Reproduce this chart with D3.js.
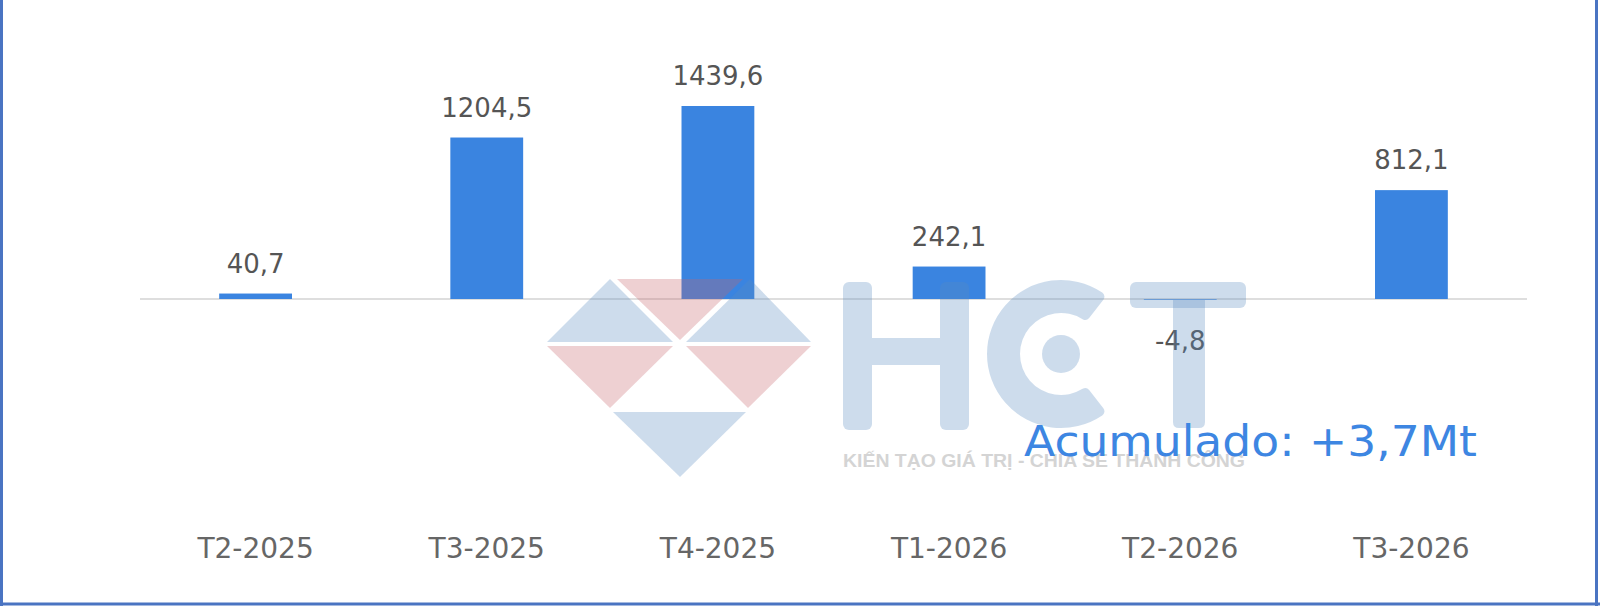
<!DOCTYPE html>
<html>
<head>
<meta charset="utf-8">
<script src="https://cdn.jsdelivr.net/npm/d3@7"></script>
<style>
  html, body { margin: 0; padding: 0; background: #fff; }
  svg { display: block; }
</style>
</head>
<body>
<svg id="chart" width="1600" height="606"></svg>
<script>
// ---- data ----
const categories = ["T2-2025", "T3-2025", "T4-2025", "T1-2026", "T2-2026", "T3-2026"];
const values = [40.7, 1204.5, 1439.6, 242.1, -4.8, 812.1];
const annotation = "Acumulado: +3,7Mt";
const tagline = "KIẾN TẠO GIÁ TRỊ - CHIA SẺ THÀNH CÔNG";

// ---- setup ----
const W = 1600, H = 606;
const svg = d3.select("#chart");
svg.append("rect").attr("width", W).attr("height", H).attr("fill", "#fff");

const fmt = d3.formatLocale({decimal: ",", thousands: "", grouping: [3], currency: ["", ""], minus: "-"}).format(".1f");

const x = d3.scaleBand().domain(categories).range([140, 1527]).paddingInner(0.685).paddingOuter(0.3425);
const y = d3.scaleLinear().domain([0, 1439.6]).range([299, 106]);

const font = "'DejaVu Sans', sans-serif";
const barColor = "#3a84e0";

// baseline
svg.append("line")
  .attr("x1", x.range()[0]).attr("x2", x.range()[1])
  .attr("y1", y(0)).attr("y2", y(0))
  .attr("stroke", "#dedede").attr("stroke-width", 2);

// bars
const data = categories.map((c, i) => ({c, v: values[i]}));
svg.selectAll("rect.bar").data(data).join("rect")
  .attr("class", "bar")
  .attr("x", d => x(d.c))
  .attr("width", x.bandwidth())
  .attr("y", d => Math.min(y(d.v), y(0)))
  .attr("height", d => Math.abs(y(d.v) - y(0)))
  .attr("fill", barColor);

// value labels
svg.selectAll("text.val").data(data).join("text")
  .attr("class", "val")
  .attr("x", d => x(d.c) + x.bandwidth() / 2)
  .attr("y", d => d.v >= 0 ? y(d.v) - 21 : y(d.v) + 50)
  .attr("text-anchor", "middle")
  .attr("font-family", font)
  .attr("font-size", 26)
  .attr("fill", "#555")
  .text(d => fmt(d.v));

// category axis (no line, no ticks)
const xAxis = svg.append("g").attr("transform", "translate(0,536)")
  .call(d3.axisBottom(x).tickSize(0).tickPadding(0));
xAxis.select(".domain").remove();
xAxis.selectAll("text")
  .attr("dy", "0.79em")
  .attr("font-family", font)
  .attr("font-size", 28)
  .attr("fill", "#666");

// ---- watermark logo ----
const wm = svg.append("g").attr("fill-opacity", 0.3);
const blueWM = "#5a8bc0", pinkWM = "#c66269";
const tris = [
  {p: [[610,279],[547,342],[673,342]], c: blueWM},
  {p: [[617,279],[743,279],[680,340]], c: pinkWM},
  {p: [[750,279],[686,342],[811,342]], c: blueWM},
  {p: [[547,346],[673,346],[610,408]], c: pinkWM},
  {p: [[686,346],[811,346],[748,408]], c: pinkWM},
  {p: [[613,412],[746,412],[680,477]], c: blueWM}
];
wm.selectAll("path.tri").data(tris).join("path")
  .attr("class", "tri")
  .attr("d", d => "M" + d.p.map(q => q.join(",")).join("L") + "Z")
  .attr("fill", d => d.c);

// H
const Hg = wm.append("g").attr("fill", blueWM);
Hg.append("rect").attr("x", 843).attr("y", 282).attr("width", 29).attr("height", 148).attr("rx", 6);
Hg.append("rect").attr("x", 940).attr("y", 282).attr("width", 29).attr("height", 148).attr("rx", 6);
Hg.append("path").attr("d", "M872,338H940V365H872Z");
// C
const arc = d3.arc().innerRadius(41).outerRadius(74).startAngle(142 * Math.PI / 180).endAngle(398 * Math.PI / 180).cornerRadius(5);
wm.append("path").attr("d", arc()).attr("transform", "translate(1061,354)").attr("fill", blueWM);
wm.append("circle").attr("cx", 1061).attr("cy", 354).attr("r", 19).attr("fill", blueWM);
// T
wm.append("rect").attr("x", 1130).attr("y", 282).attr("width", 116).attr("height", 26).attr("rx", 6).attr("fill", blueWM);
wm.append("path").attr("d", "M1173,300H1205V422Q1205,428 1199,428H1179Q1173,428 1173,422Z").attr("fill", blueWM);

// tagline
svg.append("text")
  .attr("x", 843).attr("y", 467)
  .attr("textLength", 402).attr("lengthAdjust", "spacingAndGlyphs")
  .attr("font-family", "'Liberation Sans', Arial, sans-serif")
  .attr("font-weight", "bold")
  .attr("font-size", 18)
  .attr("fill", "#d4d4d4")
  .text(tagline);

// annotation
svg.append("text")
  .attr("x", 1024).attr("y", 456)
  .attr("textLength", 453).attr("lengthAdjust", "spacingAndGlyphs")
  .attr("font-family", font)
  .attr("font-size", 42)
  .attr("fill", "#3d86e2")
  .text(annotation);

// frame
const frame = svg.append("g").attr("stroke", "#4a74c2").attr("stroke-width", 3).attr("fill", "none");
frame.append("line").attr("x1", 1.5).attr("x2", 1.5).attr("y1", 0).attr("y2", 606);
frame.append("line").attr("x1", 1596.5).attr("x2", 1596.5).attr("y1", 0).attr("y2", 606);
frame.append("line").attr("x1", 0).attr("x2", 1600).attr("y1", 604).attr("y2", 604);
</script>
</body>
</html>
